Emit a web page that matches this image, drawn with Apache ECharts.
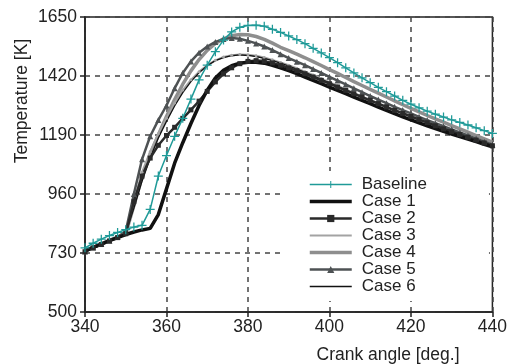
<!DOCTYPE html>
<html>
<head>
<meta charset="utf-8">
<script src="https://cdn.jsdelivr.net/npm/echarts@6/dist/echarts.min.js"></script>
<style>
  html, body { margin: 0; padding: 0; background: #fff; }
  #temp { width: 510px; height: 364px; }
</style>
</head>
<body>
<div id="temp"></div>
<script>
// crank angle, deg (every 2 deg)
var angles = [340, 342, 344, 346, 348, 350, 352, 354, 356, 358, 360, 362, 364, 366, 368, 370, 372, 374, 376, 378,
    380, 382, 384, 386, 388, 390, 392, 394, 396, 398, 400, 402, 404, 406, 408, 410, 412, 414, 416, 418,
    420, 422, 424, 426, 428, 430, 432, 434, 436, 438, 440];

var baseline = [750, 768, 784, 798, 810, 821, 831, 838, 900, 1030, 1110, 1185, 1255, 1330, 1405, 1462, 1515, 1560, 1592, 1610,
    1617, 1618, 1614, 1602, 1590, 1576, 1562, 1546, 1528, 1510, 1492, 1472, 1452, 1432, 1413, 1394, 1376, 1359, 1342, 1325,
    1310, 1296, 1283, 1271, 1260, 1249, 1239, 1229, 1218, 1207, 1196];
var case1 = [738, 752, 765, 778, 790, 802, 812, 820, 826, 880, 980, 1080, 1160, 1235, 1305, 1365, 1412, 1442, 1460, 1470,
    1474, 1474, 1470, 1462, 1452, 1441, 1429, 1416, 1403, 1390, 1377, 1364, 1351, 1338, 1325, 1312, 1299, 1286, 1273, 1261,
    1249, 1237, 1226, 1215, 1204, 1194, 1184, 1174, 1164, 1154, 1144];
var case2 = [735, 750, 763, 777, 790, 805, 930, 1030, 1100, 1150, 1188, 1220, 1255, 1288, 1322, 1360, 1397, 1428, 1452, 1468,
    1477, 1480, 1478, 1471, 1462, 1452, 1441, 1429, 1416, 1403, 1390, 1377, 1364, 1351, 1338, 1325, 1312, 1299, 1286, 1274,
    1262, 1250, 1238, 1226, 1214, 1203, 1192, 1181, 1170, 1159, 1148];
var case3 = [737, 751, 765, 778, 792, 812, 930, 1045, 1125, 1195, 1255, 1315, 1365, 1405, 1437, 1462, 1481, 1494, 1501, 1504,
    1503, 1499, 1492, 1483, 1473, 1462, 1450, 1437, 1424, 1410, 1396, 1382, 1368, 1354, 1340, 1327, 1314, 1301, 1289, 1277,
    1265, 1253, 1241, 1229, 1218, 1207, 1196, 1185, 1174, 1163, 1152];
var case4 = [738, 752, 766, 779, 792, 806, 915, 1025, 1115, 1190, 1262, 1328, 1388, 1440, 1484, 1520, 1547, 1565, 1577, 1582,
    1581, 1574, 1563, 1548, 1532, 1519, 1505, 1491, 1476, 1461, 1445, 1430, 1414, 1398, 1383, 1368, 1353, 1338, 1323, 1308,
    1294, 1280, 1266, 1253, 1240, 1227, 1214, 1201, 1188, 1175, 1162];
var case5 = [736, 751, 765, 778, 792, 815, 960, 1095, 1185, 1248, 1305, 1372, 1432, 1477, 1511, 1535, 1553, 1564, 1568, 1565,
    1557, 1547, 1535, 1521, 1505, 1490, 1476, 1462, 1447, 1432, 1417, 1402, 1387, 1372, 1357, 1342, 1328, 1314, 1300, 1287,
    1274, 1261, 1248, 1236, 1224, 1212, 1200, 1188, 1176, 1164, 1152];
var case6 = [737, 751, 764, 777, 791, 808, 905, 1010, 1100, 1178, 1243, 1303, 1355, 1398, 1433, 1460, 1480, 1492, 1499, 1502,
    1500, 1496, 1489, 1480, 1470, 1459, 1447, 1434, 1421, 1407, 1393, 1379, 1365, 1351, 1338, 1325, 1312, 1299, 1287, 1275,
    1263, 1251, 1239, 1228, 1217, 1206, 1195, 1184, 1173, 1162, 1151];

var xTicks = [340, 360, 380, 400, 420, 440];
var yTicks = [500, 730, 960, 1190, 1420, 1650];

var font = 'Liberation Sans';
var teal = '#1f9a98';
var plusSymbol = 'path://M43,0 H57 V43 H100 V57 H57 V100 H43 V57 H0 V43 H43 Z';

function pairs(vals) {
    return angles.map(function (a, i) {
        return [a, vals[i]];
    });
}

function caseSeries(name, vals, color, width, symbol, size) {
    return {
        name: name,
        type: 'line',
        data: pairs(vals),
        showSymbol: size > 0,
        symbol: symbol,
        symbolSize: size,
        lineStyle: { color: color, width: width },
        itemStyle: { color: color },
        z: 2
    };
}

var noMark = { opacity: 0 };

var myChart = echarts.init(document.getElementById('temp'));
myChart.setOption({
    animation: false,
    backgroundColor: '#fff',
    textStyle: { fontFamily: font },
    grid: {
        left: 85, right: 17, top: 17, bottom: 52,
        show: true, borderColor: '#222', borderWidth: 1.5
    },
    xAxis: {
        type: 'value',
        min: xTicks[0], max: xTicks[xTicks.length - 1], interval: 20,
        axisLine: { lineStyle: { color: '#222', width: 1.5 } },
        axisTick: { length: 5, lineStyle: { color: '#222', width: 1.5 } },
        axisLabel: { color: '#222', fontSize: 17.5, margin: 6, fontFamily: font },
        splitLine: { lineStyle: { color: '#444', width: 1.5, type: [5, 5] } }
    },
    yAxis: {
        type: 'value',
        min: yTicks[0], max: yTicks[yTicks.length - 1], interval: 230,
        axisLine: { lineStyle: { color: '#222', width: 1.5 } },
        axisTick: { length: 5, lineStyle: { color: '#222', width: 1.5 } },
        axisLabel: {
            color: '#222', fontSize: 17.5, margin: 8, fontFamily: font,
            formatter: function (v) { return String(v); }
        },
        splitLine: { lineStyle: { color: '#444', width: 1.5, type: [5, 5] } }
    },
    legend: {
        orient: 'vertical',
        left: 281,
        top: 171,
        padding: [5, 62, 6, 27],
        backgroundColor: '#fff',
        itemWidth: 42,
        itemHeight: 9,
        itemGap: 0,
        textStyle: { color: '#222', fontSize: 17, lineHeight: 17, fontFamily: font, padding: [0, 0, 0, 5] },
        data: [
            { name: 'Baseline', lineStyle: { width: 1.5 } },
            { name: 'Case 1', itemStyle: noMark, lineStyle: { width: 3.5 } },
            { name: 'Case 2', lineStyle: { width: 2.5 } },
            { name: 'Case 3', itemStyle: noMark, lineStyle: { width: 2 } },
            { name: 'Case 4', itemStyle: noMark, lineStyle: { width: 3.5 } },
            { name: 'Case 5', lineStyle: { width: 2.5 } },
            { name: 'Case 6', itemStyle: noMark, lineStyle: { width: 1.6 } }
        ]
    },
    graphic: [
        {
            type: 'text', x: 22, y: 101, rotation: Math.PI / 2,
            style: { text: 'Temperature [K]', fill: '#222', font: '17.5px "Liberation Sans"', align: 'center', verticalAlign: 'middle' }
        },
        {
            type: 'text', x: 388, y: 355,
            style: { text: 'Crank angle [deg.]', fill: '#222', font: '17.5px "Liberation Sans"', align: 'center', verticalAlign: 'middle' }
        }
    ],
    series: [
        caseSeries('Case 4', case4, '#8e8e8e', 3.5, 'circle', 0),
        caseSeries('Case 3', case3, '#a3a3a3', 2, 'circle', 3),
        caseSeries('Case 6', case6, '#111', 1.3, 'circle', 0),
        caseSeries('Case 5', case5, '#4e5254', 2.5, 'triangle', 6),
        caseSeries('Case 2', case2, '#2a2a2a', 2.5, 'rect', 5),
        caseSeries('Case 1', case1, '#111', 3.5, 'circle', 0),
        {
            name: 'Baseline',
            type: 'line',
            data: pairs(baseline),
            symbol: plusSymbol,
            symbolSize: 9,
            lineStyle: { color: teal, width: 1.5 },
            itemStyle: { color: teal },
            z: 3
        }
    ]
});
</script>
</body>
</html>
